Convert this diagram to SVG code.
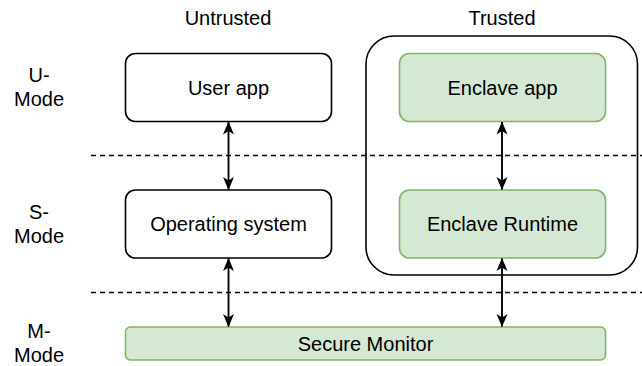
<svg xmlns="http://www.w3.org/2000/svg" width="642" height="366" viewBox="0 0 642 366">
<defs>
<style>
text{font-family:"Liberation Sans",Arial,sans-serif;font-size:20px;fill:#000;text-anchor:middle}
.plain{fill:#fff;stroke:#000;stroke-width:1.6}
.green{fill:#d5e8d4;stroke:#82b366;stroke-width:1.6}
.outer{fill:none;stroke:#000;stroke-width:1.6}
.dash{stroke:#000;stroke-width:1.6;stroke-dasharray:5 4;fill:none}
.conn{stroke:#000;stroke-width:1.9;fill:none;marker-start:url(#ah);marker-end:url(#ah)}
</style>
<marker id="ah" viewBox="0 0 13 12" refX="12.5" refY="6" markerWidth="13" markerHeight="12" markerUnits="userSpaceOnUse" orient="auto-start-reverse">
<path d="M0,0.5 L13,6 L0,11.5 L3.5,6 Z" fill="#000"/>
</marker>
</defs>
<rect width="642" height="366" fill="#fff"/>
<g id="labels">
<text x="228" y="25">Untrusted</text>
<text x="502" y="25">Trusted</text>
<text x="39" y="82">U-</text>
<text x="39" y="106">Mode</text>
<text x="39" y="218.5">S-</text>
<text x="39" y="242.5">Mode</text>
<text x="39" y="338">M-</text>
<text x="39" y="362">Mode</text>
</g>
<g id="separators">
<line class="dash" x1="91" y1="155.5" x2="642" y2="155.5"/>
<line class="dash" x1="91" y1="292.5" x2="642" y2="292.5"/>
</g>
<g id="trusted-container">
<rect class="outer" x="366" y="36" width="271.5" height="239" rx="28"/>
</g>
<g id="user-app">
<rect class="plain" x="125.5" y="53.5" width="206" height="68" rx="10"/>
<text x="228.5" y="94.5">User app</text>
</g>
<g id="enclave-app">
<rect class="green" x="399.5" y="53.5" width="206" height="68" rx="10"/>
<text x="502.5" y="94.5">Enclave app</text>
</g>
<g id="operating-system">
<rect class="plain" x="125.5" y="190" width="206" height="68" rx="10"/>
<text x="228.5" y="231">Operating system</text>
</g>
<g id="enclave-runtime">
<rect class="green" x="399.5" y="190" width="206" height="68" rx="10"/>
<text x="502.5" y="231">Enclave Runtime</text>
</g>
<g id="secure-monitor">
<rect class="green" x="125.5" y="327" width="480" height="33" rx="5"/>
<text x="365.5" y="350.5">Secure Monitor</text>
</g>
<g id="connectors">
<line class="conn" x1="228.5" y1="122" x2="228.5" y2="189.5"/>
<line class="conn" x1="502" y1="122" x2="502" y2="189.5"/>
<line class="conn" x1="228.5" y1="258.5" x2="228.5" y2="326.5"/>
<line class="conn" x1="502" y1="258.5" x2="502" y2="326.5"/>
</g>
</svg>
